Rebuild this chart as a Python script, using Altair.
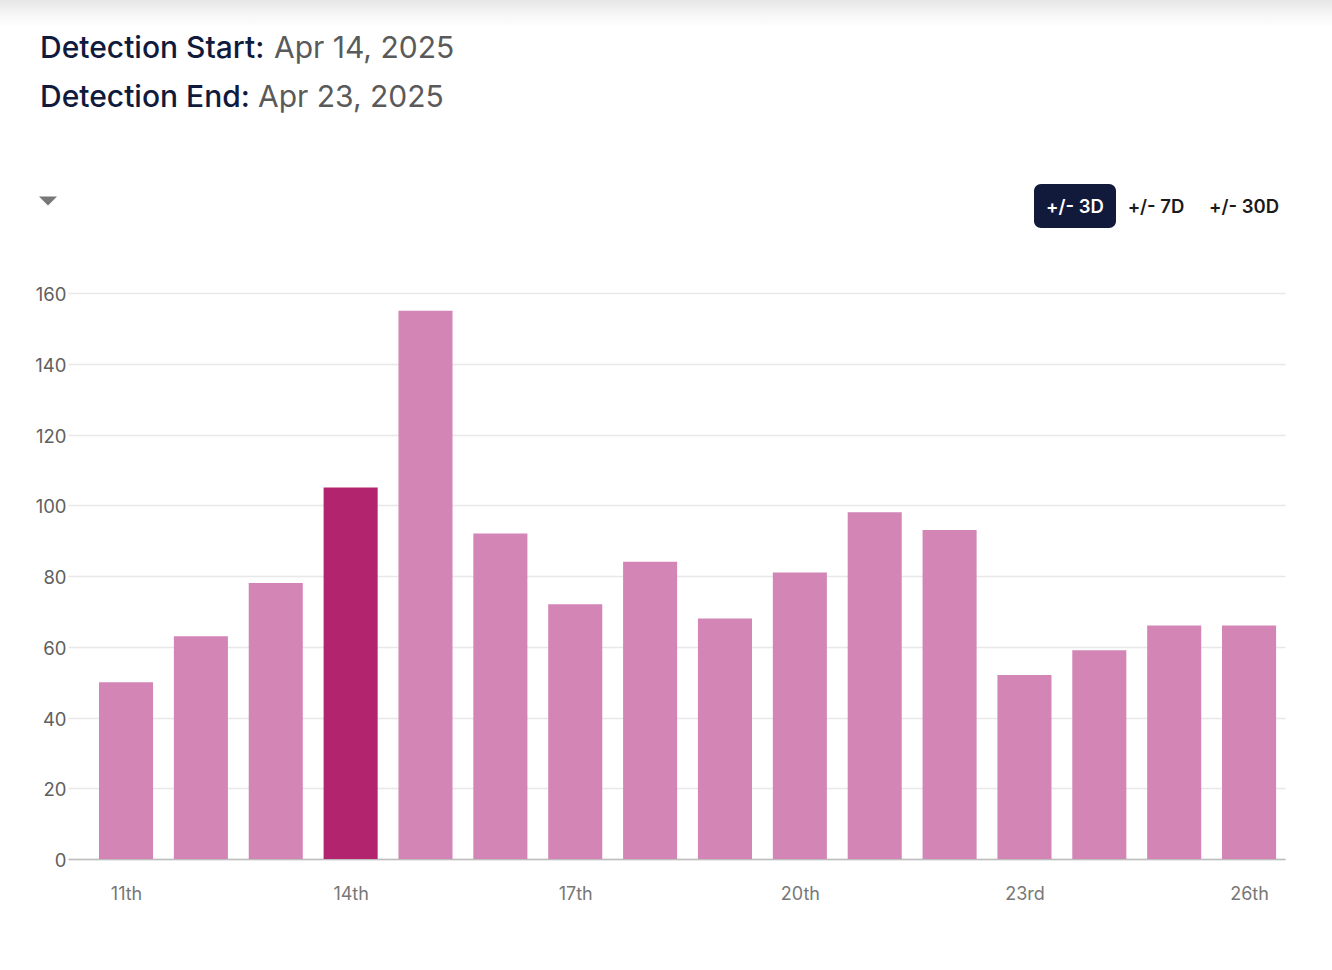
import altair as alt
import pandas as pd

# Daily detection counts, Apr 11 - Apr 26
days = [11, 12, 13, 14, 15, 16, 17, 18, 19, 20, 21, 22, 23, 24, 25, 26]
counts = [50, 63, 78, 105, 155, 92, 72, 84, 68, 81, 98, 93, 52, 59, 66, 66]
highlight_day = 14
tick_days = [11, 14, 17, 20, 23, 26]
y_ticks = [0, 20, 40, 60, 80, 100, 120, 140, 160]

header_labels = ["Detection Start:", "Detection End:"]
header_values = ["Apr 14, 2025", "Apr 23, 2025"]
range_buttons = ["+/- 3D", "+/- 7D", "+/- 30D"]

FONT = "Inter"
W, H = 1217, 566          # plot area
LEFT, TOP = 68, 293       # plot origin inside the page
PAGE_W, PAGE_H = 1332, 970

df = pd.DataFrame({"day": days, "count": counts})

ordinal = (
    "datum.value + ((datum.value % 100 >= 11 && datum.value % 100 <= 13) ? 'th' : "
    "(datum.value % 10 == 1 ? 'st' : datum.value % 10 == 2 ? 'nd' : "
    "datum.value % 10 == 3 ? 'rd' : 'th'))"
)

bars = (
    alt.Chart(df)
    .transform_calculate(x0="datum.day - 0.361", x1="datum.day + 0.361")
    .mark_bar()
    .encode(
        x=alt.X(
            "x0:Q",
            scale=alt.Scale(domain=[10.225, 26.48], nice=False, zero=False),
            axis=alt.Axis(
                title=None, values=tick_days, labelExpr=ordinal, grid=False,
                ticks=False, domainColor="#bdbdbd", domainWidth=1.5,
                labelColor="#777777", labelFontSize=18, labelFont=FONT,
                labelPadding=26,
            ),
        ),
        x2="x1:Q",
        y=alt.Y(
            "count:Q",
            scale=alt.Scale(domain=[0, 160], nice=False),
            axis=alt.Axis(
                title=None, values=y_ticks, domain=False, ticks=False,
                gridColor="#e8e8e8", gridWidth=1.5, labelColor="#606060",
                labelFontSize=18.5, labelFont=FONT, labelPadding=2,
                labelOffset=1.5,
            ),
        ),
        y2=alt.datum(0),
        color=alt.condition(
            alt.datum.day == highlight_day, alt.value("#b3246f"), alt.value("#d385b6")
        ),
    )
)

one = pd.DataFrame({"k": [0]})

# Invisible frame that fixes the overall canvas extent
page = alt.Chart(one).mark_rect(fillOpacity=0, strokeOpacity=0).encode(
    x=alt.value(-LEFT), x2=alt.value(PAGE_W - LEFT),
    y=alt.value(-TOP), y2=alt.value(PAGE_H - TOP),
)

# Soft shadow along the top edge
shade = alt.Chart(one).mark_rect(
    fill=alt.Gradient(
        gradient="linear",
        stops=[alt.GradientStop(color="#e6e6e6", offset=0),
               alt.GradientStop(color="#f6f6f6", offset=0.5),
               alt.GradientStop(color="#ffffff", offset=1)],
        x1=0, x2=0, y1=0, y2=1,
    )
).encode(
    x=alt.value(-LEFT), x2=alt.value(PAGE_W - LEFT),
    y=alt.value(-TOP), y2=alt.value(-TOP + 28),
)

layers = [page, shade]

label_x = [40, 40]
value_x = [274, 258]
base_y = [58, 107]
for lab, val, lx, vx, by in zip(header_labels, header_values, label_x, value_x, base_y):
    layers.append(
        alt.Chart(pd.DataFrame({"t": [lab]})).mark_text(
            align="left", baseline="alphabetic", font=FONT, fontSize=30,
            fontWeight=500, color="#101a3c",
        ).encode(text="t:N", x=alt.value(lx - LEFT), y=alt.value(by - TOP))
    )
    layers.append(
        alt.Chart(pd.DataFrame({"t": [val]})).mark_text(
            align="left", baseline="alphabetic", font=FONT, fontSize=30,
            fontWeight=400, color="#5a5a5a",
        ).encode(text="t:N", x=alt.value(vx - LEFT), y=alt.value(by - TOP))
    )

# Dropdown caret
layers.append(
    alt.Chart(one).mark_point(
        shape="M-1,-0.5L1,-0.5L0,0.5Z", filled=True, size=324,
        color="#777777", opacity=1,
    ).encode(x=alt.value(48 - LEFT), y=alt.value(201 - TOP))
)

# Range selector: active button background
layers.append(
    alt.Chart(one).mark_rect(color="#111a3b", cornerRadius=7).encode(
        x=alt.value(1034 - LEFT), x2=alt.value(1116 - LEFT),
        y=alt.value(184 - TOP), y2=alt.value(228 - TOP),
    )
)
button_x = [1075, 1156, 1244]
button_color = ["#ffffff", "#1a1a1a", "#1a1a1a"]
for txt, bx, bc in zip(range_buttons, button_x, button_color):
    layers.append(
        alt.Chart(pd.DataFrame({"t": [txt]})).mark_text(
            align="center", baseline="middle", font=FONT, fontSize=18.5,
            fontWeight=600, color=bc,
        ).encode(text="t:N", x=alt.value(bx - LEFT), y=alt.value(206.5 - TOP))
    )

chart = (
    alt.layer(*layers[:2], bars, *layers[2:])
    .properties(width=W, height=H, padding=0, background="white")
    .configure_view(stroke=None)
)

chart.save("out.html", embed_options={"renderer": "svg", "actions": False})
